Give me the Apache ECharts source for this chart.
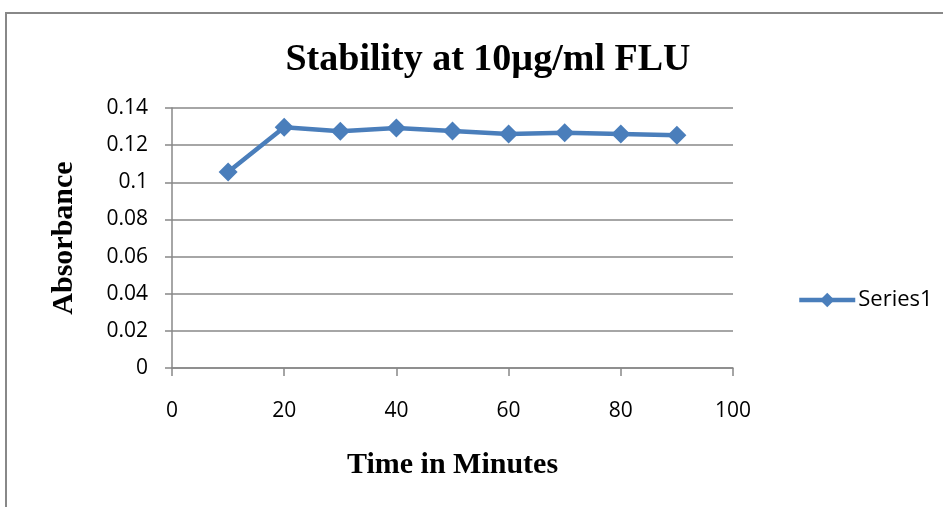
<!DOCTYPE html>
<html>
<head>
<meta charset="utf-8">
<script src="https://cdn.jsdelivr.net/npm/echarts@6/dist/echarts.min.js"></script>
<style>
  html, body { margin: 0; padding: 0; background: #fff; }
  #frame { position: absolute; left: 5px; top: 12px; width: 960px; height: 520px;
           border-left: 2px solid #888; border-top: 2px solid #888; }
  #chart { position: absolute; left: 0; top: 0; width: 943px; height: 507px; }
</style>
</head>
<body>
<div id="frame"></div>
<div id="chart"></div>
<script>
  // time in minutes / absorbance
  var timeMin = [10, 20, 30, 40, 50, 60, 70, 80, 90];
  var absorbance = [0.1055, 0.1296, 0.1275, 0.1292, 0.1276, 0.126, 0.1267, 0.126, 0.1253];

  var serif = '"Liberation Serif", "Times New Roman", serif';
  var sans = '"Open Sans", "Liberation Sans", sans-serif';

  var pts = [];
  for (var i = 0; i < timeMin.length; i++) {
    pts.push([timeMin[i], absorbance[i]]);
  }

  var myChart = echarts.init(document.getElementById('chart'));
  myChart.setOption({
    animation: false,
    title: {
      text: 'Stability at 10µg/ml FLU',
      left: 483, top: 36, textAlign: 'center',
      textStyle: { fontFamily: serif, fontSize: 38, fontWeight: 'bold', color: '#000' }
    },
    legend: {
      data: [{ name: 'Series1', lineStyle: { width: 4.5 } }],
      left: 792, top: 284,
      itemWidth: 56, itemHeight: 18,
      itemGap: 4,
      lineStyle: { width: 4.5 },
      textStyle: { fontFamily: sans, fontSize: 22, color: '#000', padding: [0, 0, 0, -2] }
    },
    grid: { left: 172, right: 210, top: 108, bottom: 139 },
    xAxis: {
      type: 'value', min: 0, max: 100, interval: 20,
      name: 'Time in Minutes', nameLocation: 'middle', nameGap: 82,
      nameTextStyle: { fontFamily: serif, fontSize: 30, fontWeight: 'bold', color: '#000' },
      axisLine: { lineStyle: { color: '#888', width: 1.5 } },
      axisTick: { show: true, length: 8, lineStyle: { color: '#888', width: 1.5 } },
      axisLabel: { fontFamily: sans, fontSize: 21, color: '#000', margin: 33 },
      splitLine: { show: false }
    },
    yAxis: {
      type: 'value', min: 0, max: 0.14, interval: 0.02,
      name: 'Absorbance', nameLocation: 'middle', nameGap: 93, nameRotate: 90,
      nameTextStyle: { fontFamily: serif, fontSize: 30, fontWeight: 'bold', color: '#000' },
      axisLine: { show: true, lineStyle: { color: '#888', width: 1.5 } },
      axisTick: { show: true, length: 7, lineStyle: { color: '#888', width: 1.5 } },
      axisLabel: { fontFamily: sans, fontSize: 21, color: '#000', margin: 24 },
      splitLine: { lineStyle: { color: '#888', width: 1.5 } }
    },
    series: [{
      name: 'Series1',
      type: 'line',
      data: pts,
      symbol: 'diamond',
      symbolSize: 19,
      itemStyle: { color: '#4a7ebb' },
      lineStyle: { color: '#4a7ebb', width: 4.5 }
    }]
  });
</script>
</body>
</html>
